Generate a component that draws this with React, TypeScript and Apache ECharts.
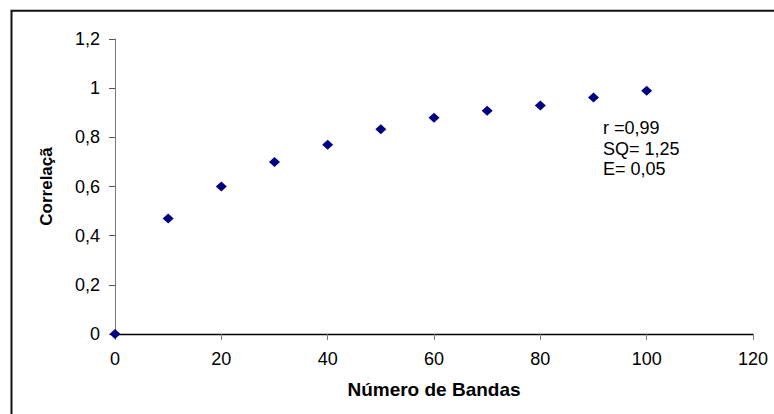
import React, { useEffect, useRef } from "react";
import * as echarts from "echarts";

const bandas: number[] = [0, 10, 20, 30, 40, 50, 60, 70, 80, 90, 100];
const correlacao: number[] = [0, 0.47, 0.6, 0.7, 0.77, 0.833, 0.88, 0.908, 0.929, 0.962, 0.989];
const annotationLines: string[] = ["r =0,99", "SQ= 1,25", "E= 0,05"];
const xAxisTitle = "Número de Bandas";
const yAxisTitle = "Correlaçã";

const FONT = "'Liberation Sans', Arial, Helvetica, sans-serif";

export default function App() {
  const ref = useRef<HTMLDivElement>(null);
  useEffect(() => {
    if (!ref.current) return;
    const chart = echarts.init(ref.current, undefined, { renderer: "svg" });
    const fmt = (v: number) => String(Math.round(v * 10) / 10).replace(".", ",");
    chart.setOption({
      animation: false,
      backgroundColor: "#ffffff",
      textStyle: { fontFamily: FONT },
      grid: { left: 115, top: 39, right: 21, bottom: 80, containLabel: false },
      xAxis: {
        type: "value",
        min: 0,
        max: 120,
        interval: 20,
        name: xAxisTitle,
        nameLocation: "middle",
        nameGap: 46,
        nameTextStyle: { fontFamily: FONT, fontSize: 19, fontWeight: "bold", color: "#000" },
        axisLine: { show: true, onZero: false, lineStyle: { color: "#000", width: 1.3 } },
        axisTick: { show: true, length: 6, inside: false, lineStyle: { color: "#777" } },
        axisLabel: { margin: 16, fontSize: 18, color: "#000", fontFamily: FONT },
        splitLine: { show: false },
      },
      yAxis: {
        type: "value",
        min: 0,
        max: 1.2,
        interval: 0.2,
        name: yAxisTitle,
        nameLocation: "middle",
        nameRotate: 90,
        nameGap: 60,
        nameTextStyle: { fontFamily: FONT, fontSize: 17, fontWeight: "bold", color: "#000" },
        axisLine: { show: true, lineStyle: { color: "#777", width: 1 } },
        axisTick: { show: true, length: 6, inside: false, lineStyle: { color: "#555" } },
        axisLabel: { margin: 15, fontSize: 18, color: "#000", fontFamily: FONT, formatter: fmt },
        splitLine: { show: false },
      },
      graphic: [
        {
          type: "rect",
          shape: { x: 11.5, y: 10.7, width: 800, height: 500 },
          style: { fill: "none", stroke: "#111", lineWidth: 2 },
          silent: true,
        },
        {
          type: "text",
          x: 603,
          y: 118,
          style: {
            text: annotationLines.join("\n"),
            font: `18px ${FONT}`,
            fill: "#000",
            lineHeight: 20.5,
          },
        },
      ],
      series: [
        {
          type: "scatter",
          symbol: "diamond",
          symbolSize: [11, 10],
          itemStyle: { color: "#000080", opacity: 1 },
          data: bandas.map((b, i) => [b, correlacao[i]]),
        },
      ],
    });
    return () => chart.dispose();
  }, []);
  return (
    <div
      ref={ref}
      style={{ position: "fixed", left: 0, top: 0, width: 774, height: 414, background: "#fff" }}
    />
  );
}
